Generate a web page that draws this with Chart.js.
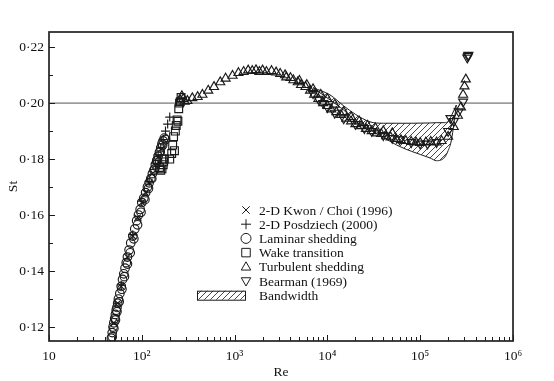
<!DOCTYPE html>
<html><head><meta charset="utf-8">
<script src="https://cdn.jsdelivr.net/npm/chart.js@4.4.0/dist/chart.umd.min.js"></script>
<style>html,body{margin:0;padding:0;background:#fff;}#wrap{width:554px;height:381px;position:relative;}</style>
</head><body><div id="wrap"><canvas id="c" width="554" height="381"></canvas></div>
<script>
// ---------------- data ----------------
const laminarRe = [47,48,49,50,51,52,53,54,55,56,58,60,62,64,66,68,70,73,76,80,84,88,92,96,100,105,110,115,120,125,130,135,140,145,150,155,160,165,170,175,180,
  48,50,52,54,57,61,65,70,75,82,90,98,108,118,128,138,148,158,168];
const laminarSt = [0.1160,0.1180,0.1200,0.1215,0.1230,0.1245,0.1260,0.1270,0.1285,0.1300,0.1320,0.1345,0.1370,0.1390,0.1410,0.1430,0.1450,0.1475,0.1500,0.1525,0.1550,0.1580,0.1600,0.1620,0.1645,0.1660,0.1680,0.1700,0.1715,0.1730,0.1748,0.1760,0.1780,0.1795,0.1810,0.1825,0.1840,0.1855,0.1865,0.1875,0.1870,
  0.1165,0.1195,0.1225,0.1255,0.1290,0.1335,0.1380,0.1425,0.1465,0.1515,0.1565,0.1610,0.1655,0.1695,0.1730,0.1765,0.1795,0.1825,0.1850];

const kwonRe = [50,55,60,70,80,90,100,110,120,130,140,150,160];
const kwonSt = [0.1215,0.1285,0.1345,0.1450,0.1525,0.1590,0.1645,0.1680,0.1715,0.1748,0.1778,0.1808,0.1835];

const posRe = [60,80,100,120,140,150,160,170,180,190,200];
const posSt = [0.1350,0.1530,0.1650,0.1720,0.1785,0.1815,0.1840,0.1870,0.1900,0.1925,0.1950];

const wakeRe = [155,160,165,170,175,165,172,200,210,215,220,225,230,235,240,245,250,255,260,265];
const wakeSt = [0.1770,0.1760,0.1765,0.1780,0.1800,0.1800,0.1790,0.1800,0.1820,0.1850,0.1880,0.1830,0.1900,0.1920,0.1940,0.1935,0.1980,0.2000,0.2005,0.2020];

const turbRe = [260,270,280,290,310,350,400,450,520,600,700,800,950,1100,1250,1400,1550,1700,1850,2000,2200,2500,2800,3100,3500,3600,4000,4300,4800,5200,5800,6500,7200,8000,9000,10000,11000,12500,14000,16000,18000,20000,23000,26000,30000,34000,38000,43000,48000,55000,62000,70000,80000,90000,100000,115000,130000,150000,170000,200000,230000,255000,275000,290000,300000,310000,
  5000,6000,7000,8500,10000,12000,15000,18000,22000,27000,33000,40000,50000];
const turbSt = [0.2010,0.2025,0.2015,0.2005,0.2008,0.2018,0.2022,0.2030,0.2045,0.2058,0.2075,0.2088,0.2098,0.2108,0.2112,0.2117,0.2115,0.2118,0.2112,0.2117,0.2112,0.2115,0.2110,0.2105,0.2100,0.2092,0.2090,0.2082,0.2075,0.2065,0.2058,0.2045,0.2030,0.2015,0.2000,0.1990,0.1978,0.1968,0.1958,0.1945,0.1935,0.1925,0.1918,0.1908,0.1900,0.1892,0.1890,0.1882,0.1878,0.1872,0.1868,0.1865,0.1862,0.1860,0.1858,0.1860,0.1862,0.1860,0.1865,0.1880,0.1915,0.1955,0.1985,0.2030,0.2060,0.2085,
  0.2080,0.2065,0.2050,0.2030,0.2015,0.1995,0.1968,0.1950,0.1935,0.1920,0.1910,0.1900,0.1893];

const bearRe = [7000,8000,9000,10000,12000,15000,20000,25000,30000,40000,50000,60000,80000,100000,120000,150000,200000,212000,230000,260000,290000,322000,327000,330000];
const bearSt = [0.2035,0.2015,0.2000,0.1985,0.1965,0.1945,0.1925,0.1910,0.1900,0.1885,0.1875,0.1870,0.1860,0.1855,0.1855,0.1860,0.1900,0.1946,0.1935,0.1970,0.2005,0.2162,0.2168,0.2172];

const bandRe    = [7000,10700,15000,20000,28800,40000,55800,80000,127700,150000,184000,200000,217000,245000];
const bandUpper = [0.2055,0.2029,0.1990,0.1960,0.1933,0.1928,0.1928,0.1928,0.1929,0.1930,0.1930,0.1935,0.1955,0.1993];
const bandLower = [0.2055,0.2011,0.1975,0.1935,0.1905,0.1878,0.1850,0.1828,0.1804,0.1794,0.1807,0.1830,0.1868,0.1993];

const refLineRe = [10,1000000];
const refLineSt = [0.20,0.20];

const xMajor = [10,100,1000,10000,100000,1000000];
const xTickLabels = ['10','10²','10³','10⁴','10⁵','10⁶'];
const xMinorMult = [2,3,4,5,6,7,8,9];
const yMajor = [0.12,0.14,0.16,0.18,0.20,0.22];
const yMinor = [0.13,0.15,0.17,0.19,0.21];

const legendLabels = ['2-D Kwon / Choi (1996)','2-D Posdziech (2000)','Laminar shedding','Wake transition','Turbulent shedding','Bearman (1969)','Bandwidth'];
const legendStyles = ['crossRot','cross','circle','rect','triangle','triangleDown','band'];

// ---------------- helpers ----------------
const FONT = '"Liberation Serif", "Times New Roman", "DejaVu Serif", serif';
const INK = '#1a1a1a';
const pts = (xs, ys) => xs.map((x, i) => ({x: x, y: ys[i]}));

function makeHatch() {
  const c = document.createElement('canvas'); c.width = 6; c.height = 6;
  const g = c.getContext('2d');
  g.strokeStyle = '#333'; g.lineWidth = 0.9;
  g.beginPath();
  g.moveTo(0, 6); g.lineTo(6, 0);
  g.moveTo(-1, 1); g.lineTo(1, -1);
  g.moveTo(5, 7); g.lineTo(7, 5);
  g.stroke();
  return g.createPattern(c, 'repeat');
}
const hatch = makeHatch();

function drawMarker(ctx, style, x, y, r) {
  ctx.beginPath();
  switch (style) {
    case 'circle': ctx.arc(x, y, r, 0, Math.PI * 2); break;
    case 'rect': ctx.rect(x - r * 0.85, y - r * 0.85, r * 1.7, r * 1.7); break;
    case 'triangle':
      ctx.moveTo(x, y - r); ctx.lineTo(x + r * 0.95, y + r * 0.65); ctx.lineTo(x - r * 0.95, y + r * 0.65); ctx.closePath(); break;
    case 'triangleDown':
      ctx.moveTo(x, y + r); ctx.lineTo(x + r * 0.95, y - r * 0.65); ctx.lineTo(x - r * 0.95, y - r * 0.65); ctx.closePath(); break;
    case 'cross':
      ctx.moveTo(x - r, y); ctx.lineTo(x + r, y); ctx.moveTo(x, y - r); ctx.lineTo(x, y + r); break;
    case 'crossRot':
      const d = r * 0.75;
      ctx.moveTo(x - d, y - d); ctx.lineTo(x + d, y + d); ctx.moveTo(x + d, y - d); ctx.lineTo(x - d, y + d); break;
  }
  ctx.stroke();
}

const frameTicks = {
  id: 'frameTicks',
  afterDraw(chart) {
    const {ctx, chartArea: a, scales: {x, y}} = chart;
    ctx.save();
    ctx.strokeStyle = INK; ctx.lineWidth = 1;
    const vline = (px, len) => { px = Math.round(px) + 0.5; ctx.beginPath(); ctx.moveTo(px, a.bottom); ctx.lineTo(px, a.bottom - len); ctx.stroke(); };
    const hline = (py, len) => { py = Math.round(py) + 0.5; ctx.beginPath(); ctx.moveTo(a.left, py); ctx.lineTo(a.left + len, py); ctx.stroke(); };
    xMajor.forEach((v, i) => {
      vline(x.getPixelForValue(v), 6);
      if (i < xMajor.length - 1) xMinorMult.forEach(m => vline(x.getPixelForValue(v * m), 4));
    });
    yMajor.forEach(v => hline(y.getPixelForValue(v), 6));
    yMinor.forEach(v => hline(y.getPixelForValue(v), 4));
    ctx.lineWidth = 1.7; ctx.strokeStyle = '#222';
    ctx.strokeRect(a.left, a.top, a.right - a.left, a.bottom - a.top);
    ctx.restore();
  }
};

const customLegend = {
  id: 'customLegend',
  afterDraw(chart) {
    const {ctx, chartArea: a} = chart;
    ctx.save();
    ctx.font = '13.5px ' + FONT;
    ctx.fillStyle = '#111'; ctx.textBaseline = 'middle'; ctx.textAlign = 'left';
    ctx.strokeStyle = INK; ctx.lineWidth = 1;
    const sx = a.left + 197, tx = a.left + 210, y0 = a.top + 178, dy = 14.2;
    legendLabels.forEach((lab, i) => {
      const yy = y0 + i * dy;
      if (legendStyles[i] === 'band') {
        const bx = a.left + 148, bw = 48, bh = 9;
        ctx.fillStyle = hatch; ctx.fillRect(bx, yy - bh / 2, bw, bh);
        ctx.strokeRect(bx + 0.5, yy - bh / 2 + 0.5, bw, bh);
        ctx.fillStyle = '#111';
      } else {
        drawMarker(ctx, legendStyles[i], sx, yy, 5);
      }
      ctx.fillText(lab, tx, yy + 1);
    });
    ctx.restore();
  }
};

const markerBase = {showLine: false, borderColor: INK, pointBorderColor: INK, pointBackgroundColor: 'rgba(0,0,0,0)', pointBorderWidth: 1.15, pointHoverRadius: 0};

const data = {
  datasets: [
    Object.assign({label: legendLabels[0], data: pts(kwonRe, kwonSt), pointStyle: 'crossRot', pointRadius: 4.5}, markerBase),
    Object.assign({label: legendLabels[1], data: pts(posRe, posSt), pointStyle: 'cross', pointRadius: 4.5}, markerBase),
    Object.assign({label: legendLabels[2], data: pts(laminarRe, laminarSt), pointStyle: 'circle', pointRadius: 4.3}, markerBase),
    Object.assign({label: legendLabels[3], data: pts(wakeRe, wakeSt), pointStyle: 'rect', pointRadius: 5.5}, markerBase),
    Object.assign({label: legendLabels[4], data: pts(turbRe, turbSt), pointStyle: 'triangle', pointRadius: 5.2}, markerBase),
    Object.assign({label: legendLabels[5], data: pts(bearRe, bearSt), pointStyle: 'triangle', rotation: 180, pointRotation: 180, pointRadius: 5.2}, markerBase),
    {label: 'band-upper', data: pts(bandRe, bandUpper), showLine: true, pointRadius: 0, borderColor: INK, borderWidth: 1, backgroundColor: hatch, fill: '+1', cubicInterpolationMode: 'monotone'},
    {label: 'band-lower', data: pts(bandRe, bandLower), showLine: true, pointRadius: 0, borderColor: INK, borderWidth: 1, fill: false, cubicInterpolationMode: 'monotone'},
    {label: 'St = 0.20', data: pts(refLineRe, refLineSt), showLine: true, pointRadius: 0, borderColor: '#555', borderWidth: 1, fill: false}
  ]
};

new Chart(document.getElementById('c'), {
  type: 'line',
  data: data,
  plugins: [frameTicks, customLegend],
  options: {
    responsive: false, animation: false, devicePixelRatio: 1,
    layout: {padding: {left: 0, right: 41, top: 32, bottom: 0}},
    plugins: {legend: {display: false}, tooltip: {enabled: false}},
    scales: {
      x: {
        type: 'logarithmic', min: 10, max: 1000000,
        grid: {display: false, drawTicks: false}, border: {display: false},
        afterBuildTicks: s => { s.ticks = xMajor.map(v => ({value: v})); },
        afterFit: s => { s.height = 40; },
        ticks: {autoSkip: false, maxRotation: 0, padding: 7, color: '#111', font: {family: FONT, size: 13.5},
          callback: v => { const i = xMajor.indexOf(v); return i >= 0 ? xTickLabels[i] : ''; }},
        title: {display: true, text: 'Re', color: '#111', font: {family: FONT, size: 13.5}, padding: {top: 0, bottom: 0}}
      },
      y: {
        type: 'linear', min: 0.115, max: 0.2254,
        grid: {display: false, drawTicks: false}, border: {display: false},
        afterBuildTicks: s => { s.ticks = yMajor.map(v => ({value: v})); },
        afterFit: s => { s.width = 49; },
        ticks: {padding: 5, color: '#111', font: {family: FONT, size: 13.5},
          callback: v => v.toFixed(2).replace('.', '·')},
        title: {display: true, text: 'St', color: '#111', font: {family: FONT, size: 13.5}, padding: {top: 5, bottom: 0}}
      }
    }
  }
});
</script></body></html>
